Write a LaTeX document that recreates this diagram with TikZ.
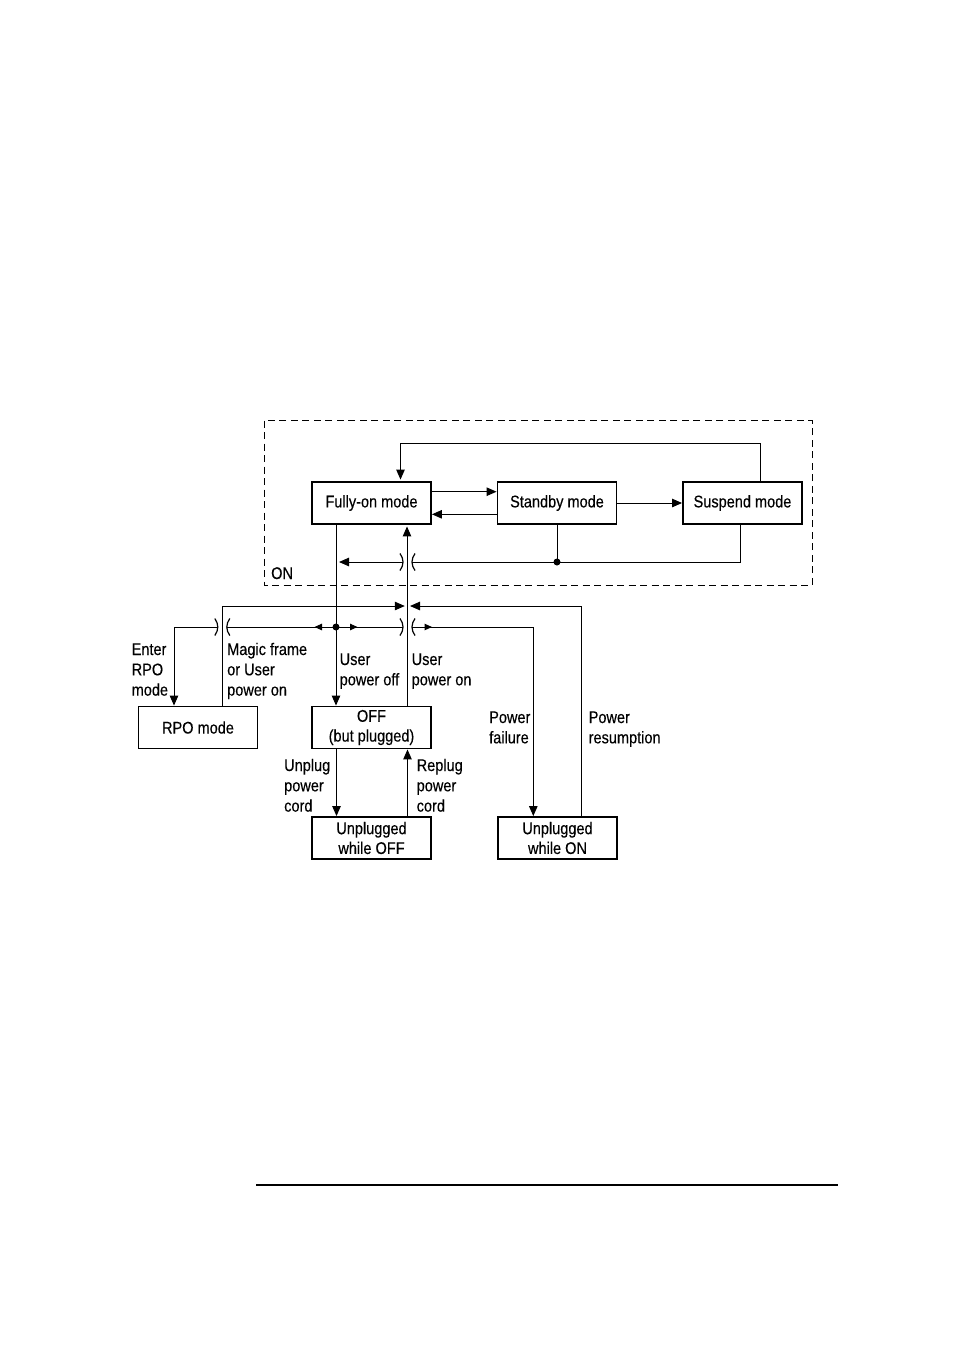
\documentclass[tikz,border=0pt]{standalone}
\usepackage{fontspec}
\setmainfont{Liberation Sans}[FakeStretch=0.86,FakeBold=0.25]
\usetikzlibrary{arrows.meta}
\begin{document}
\begin{tikzpicture}[x=1pt,y=-1pt,
  font=\fontsize{16.9}{20.3}\selectfont,
  statebox/.style={draw,line width=1.9pt,minimum width=119pt,minimum height=42pt,inner sep=0pt,align=center,font=\fontsize{16.9}{19.8}\selectfont},
  conn/.style={line width=1pt},
  arr/.style={conn,-{Triangle[length=10pt,width=8.5pt]}},
  arrS/.style={conn,-{Triangle[length=7.5pt,width=6.5pt]}},
  lbl/.style={anchor=base west,align=left,inner sep=0pt},
  crossgap/.pic={
    \draw[line width=1.2pt] (-7.5,-8.5) .. controls (-3.5,-3) and (-3.5,3) .. (-7.5,8.5);
    \draw[line width=1.2pt] (7.5,-8.5) .. controls (3.5,-3) and (3.5,3) .. (7.5,8.5);
  }]
\fill[white] (0,0) rectangle (954,1350);
\useasboundingbox (0,0) rectangle (954,1350);

% ON region
\draw[line width=1pt,dash pattern=on 7pt off 4.5pt] (264,420.5) rectangle (812,585);
\node[lbl] (onlbl) at (271,579) {ON};

% states
\node[statebox] (full) at (371.5,503) {Fully-on mode};
\node[statebox] (standby) at (557,503) {Standby mode};
\node[statebox] (suspend) at (742.5,503) {Suspend mode};
\node[statebox] (rpo) at (198,727.5) {RPO mode};
\node[statebox] (off) at (371.5,727.5) {OFF\\(but plugged)};
\node[statebox] (uoff) at (371.5,838) {Unplugged\\while OFF};
\node[statebox] (uon) at (557.5,838) {Unplugged\\while ON};

% junctions
\coordinate (j1) at (557,562);
\coordinate (j2) at (336,627);
\coordinate (g1) at (407.5,562);
\coordinate (g2) at (407.5,627);
\coordinate (g3) at (222.3,627);
\coordinate (up606) at (407.3,606);

% ON internal transitions
\draw[arr,shorten >=1.5pt] ([xshift=17.5pt]suspend.north) -- ++(0,-38) -| ([xshift=29pt]full.north);
\draw[arr] ([yshift=11.3pt]full.east) -- ([yshift=11.3pt]standby.west);
\draw[arr] ([yshift=-11.3pt]standby.west) -- ([yshift=-11.3pt]full.east);
\draw[arr] (standby.east) -- (suspend.west);

% from standby / suspend to the power-off line
\draw[conn] (standby.south) -- (j1);
\draw[conn] ([xshift=-2.5pt]suspend.south) |- ([xshift=4.5pt]g1);
\draw[arr,shorten >=3pt] ([xshift=-4.5pt]g1) -- ([xshift=-35.5pt]full.south |- g1);
\pic at (g1) {crossgap};
\fill (j1) circle (3.5pt);

% main vertical lines
\draw[arr] ([xshift=-35.5pt]full.south) -- ([xshift=-35.5pt]off.north);
\draw[arr,shorten >=1.5pt] ([xshift=35.5pt]off.north) -- ([xshift=35.5pt]full.south);

% row 606: returns to fully-on
\draw[arr,shorten >=2.5pt] ([xshift=24.3pt]rpo.north) |- (up606);
\draw[arr,shorten >=2.7pt] ([xshift=23.7pt]uon.north) |- (up606);

% row 627: branches from fully-on
\fill (j2) circle (3.5pt);
\draw[arrS] (j2) -- ++(-21.5,0);
\draw[conn] (j2) -- ([xshift=4.5pt]g3);
\draw[arr] ([xshift=-4.5pt]g3) -| ([xshift=-24pt]rpo.north);
\pic at (g3) {crossgap};
\draw[arrS] (j2) -- ++(21.5,0);
\draw[conn] (j2) -- ([xshift=-4.5pt]g2);
\draw[arrS] ([xshift=4.5pt]g2) -- ++(20,0);
\draw[arr] ([xshift=4.5pt]g2) -| ([xshift=-24.2pt]uon.north);
\pic at (g2) {crossgap};

% plug / unplug
\draw[arr] ([xshift=-35pt]off.south) -- ([xshift=-35pt]uoff.north);
\draw[arr] ([xshift=36pt]uoff.north) -- ([xshift=36pt]off.south);

% labels (anchor = baseline of the last line)
\node[lbl] (lenter) at (131.5,695.6) {Enter\\RPO\\mode};
\node[lbl] (lmagic) at (227,695.6) {Magic frame\\or User\\power on};
\node[lbl] (luoff) at (339.5,685.3) {User\\power off};
\node[lbl] (luon) at (411.5,685.3) {User\\power on};
\node[lbl] (lpf) at (489,743.3) {Power\\failure};
\node[lbl] (lpr) at (588.5,743.3) {Power\\resumption};
\node[lbl] (lunplug) at (284,811.6) {Unplug\\power\\cord};
\node[lbl] (lreplug) at (416.5,811.6) {Replug\\power\\cord};

% footer rule
\draw[line width=2pt] (256,1185) -- (838,1185);
\end{tikzpicture}
\end{document}
